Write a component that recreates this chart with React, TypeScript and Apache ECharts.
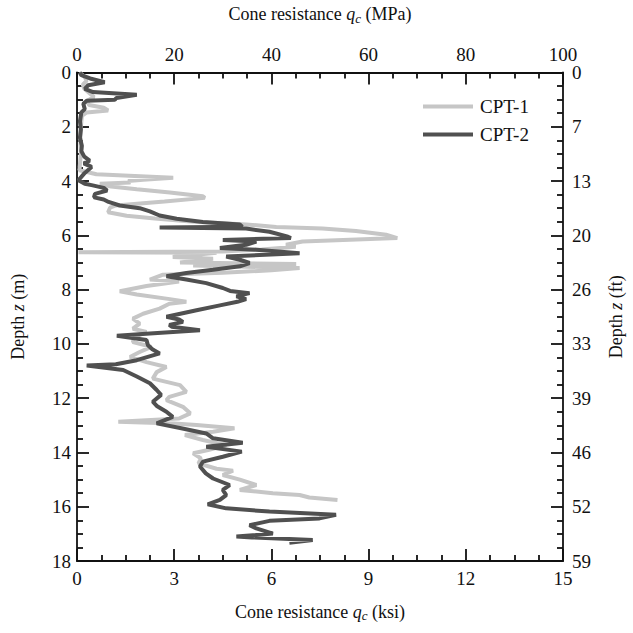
import React, { useEffect, useRef } from "react";
import * as echarts from "echarts";

// CPT-1 (light) : depth (m) and cone resistance (MPa)
const cpt1Depth = [0,0.15,0.3,0.45,0.6,0.75,0.9,1.05,1.2,1.3,1.4,1.47,1.6,2.0,2.5,3.0,3.4,3.6,3.75,3.88,3.95,4.0,4.05,4.1,4.2,4.3,4.42,4.56,4.62,4.75,4.9,4.98,5.15,5.28,5.38,5.5,5.6,5.69,5.75,5.84,5.98,6.1,6.23,6.35,6.42,6.52,6.6,6.62,6.64,6.8,6.86,7.0,7.06,7.11,7.2,7.29,7.38,7.45,7.63,7.7,7.87,8.06,8.18,8.35,8.45,8.52,8.7,8.89,9.07,9.25,9.44,9.56,9.75,9.93,10.11,10.3,10.48,10.67,10.85,11.04,11.28,11.52,11.77,11.95,12.07,12.32,12.56,12.75,12.87,12.93,12.99,13.11,13.24,13.36,13.54,13.73,13.91,14.03,14.22,14.4,14.6,14.67,14.83,15.0,15.2,15.38,15.5,15.57,15.66,15.75];
const cpt1Qc = [0.5,1.5,2.0,1.2,1.5,2.5,3.5,2.0,2.5,5.5,6.4,2.0,1.0,0.8,0.7,0.8,0.6,0.5,4,19.8,13.6,10.5,11,4.7,7,12.3,19.1,25.9,26.3,18,8,6.8,6.4,10.2,16,24,34.8,41,50.5,57.4,63.6,65.9,46.4,43,45,38,30,0.3,28.7,19.7,28,21.2,45.1,23.9,45.8,40,30,17.7,15,21,14.3,8.8,12.3,19.1,22.5,19,17,13.6,11.5,12.9,11.5,14.3,11.8,11.5,15.3,12.9,10.9,14.3,18.4,16.4,15.6,21.2,22.5,19,18.4,21.8,23.3,21,8.5,20,24.6,32.4,28,22.2,25.9,30.7,27,23.9,25.5,25,28.7,32.1,30,33.5,36.9,33.5,40.3,45.8,47.8,53.6];

// CPT-2 (dark)
const cpt2Depth = [0,0.1,0.22,0.36,0.47,0.6,0.72,0.82,0.94,1.0,1.04,1.15,1.35,1.47,1.8,2.1,2.4,2.7,2.9,3.1,3.25,3.35,3.48,3.7,3.97,4.1,4.15,4.25,4.35,4.47,4.6,4.68,4.77,4.9,5.0,5.12,5.27,5.39,5.51,5.6,5.68,5.71,5.75,5.87,6.05,6.1,6.17,6.23,6.35,6.47,6.53,6.66,6.78,6.9,7.02,7.14,7.27,7.39,7.51,7.63,7.76,7.94,8.05,8.13,8.25,8.35,8.45,8.58,8.76,9.0,9.1,9.19,9.3,9.37,9.5,9.62,9.7,9.86,10.05,10.2,10.35,10.6,10.75,10.8,10.96,11.2,11.45,11.7,11.88,12.13,12.3,12.5,12.69,12.93,13.1,13.3,13.48,13.64,13.79,13.97,14.16,14.34,14.52,14.77,14.96,15.2,15.38,15.57,15.75,15.91,16.06,16.18,16.3,16.43,16.52,16.68,16.8,16.99,17.1,17.13,17.23,17.33];
const cpt2Qc = [0.6,0.9,2.7,5.7,2.3,1.6,3.3,12.3,8.1,7.8,2.0,1.3,1.6,0.9,0.6,0.8,0.6,1.0,0.9,1.5,2.6,1.4,3.0,1.6,0.3,1.6,3.0,5.5,6.2,3.7,3.5,5.5,6.5,8.8,12.9,15,17,20.5,25.9,33.5,34,17,34.8,39.6,43.4,44,30,36.9,34.8,29.4,36.9,45.8,30.7,33.5,35.5,33.5,28,22.5,18.4,22.5,26.6,30,31.5,35.5,32.8,34.8,33,29.4,24.6,18.4,21,21.8,19,19.5,25.3,15,8.2,14.3,14.6,15.5,17,12.3,8,2.0,9.5,12.3,15,16.4,17.3,15.6,16.5,18.4,19.7,16.4,21.2,26.6,28,34.1,26.6,33.9,30,25.9,25.3,26.5,28,31.4,30,30.7,29.4,26.9,30.7,39.6,53.3,49.9,39.6,35.5,36.9,40.3,32.8,36,48.5,43.7];

const seriesNames = ["CPT-1", "CPT-2"];
const mpaTicks = [0, 20, 40, 60, 80, 100];
const ksiTicks = [0, 3, 6, 9, 12, 15];
const depthTicksM = [0, 2, 4, 6, 8, 10, 12, 14, 16, 18];
const depthTicksFt = [0, 7, 13, 20, 26, 33, 39, 46, 52, 59];

const FONT = "Liberation Serif";

export default function App() {
  const ref = useRef<HTMLDivElement>(null);
  useEffect(() => {
    if (!ref.current) return;
    const chart = echarts.init(ref.current, undefined, { renderer: "svg" });
    const pairs = (d: number[], q: number[]) => d.map((z, i) => [q[i], z]);
    const rich = {
      n: { fontFamily: FONT, fontSize: 18, color: "#111" },
      i: { fontFamily: FONT, fontSize: 18, fontStyle: "italic", color: "#111" },
      s: { fontFamily: FONT, fontSize: 13, fontStyle: "italic", color: "#111", padding: [8, 0, 0, 0] },
    };
    const axisCommon = {
      axisLine: { show: true, onZero: false, lineStyle: { color: "#111", width: 1.8 } },
      axisTick: { show: true, inside: true, length: 12, lineStyle: { color: "#111", width: 1.8 } },
      minorTick: { show: true, splitNumber: 4, length: 6, lineStyle: { color: "#111", width: 1.8 } },
      splitLine: { show: false },
      axisLabel: { fontFamily: FONT, fontSize: 19, color: "#111" },
      nameTextStyle: { fontFamily: FONT, fontSize: 18, color: "#111", rich },
    };
    chart.setOption({
      animation: false,
      backgroundColor: "#fff",
      grid: { left: 77, right: 69, top: 72, bottom: 72 },
      legend: {
        data: seriesNames,
        orient: "vertical",
        left: 423,
        top: 97,
        padding: 0,
        icon: "rect",
        itemWidth: 50,
        itemHeight: 4,
        itemGap: 9,
        textStyle: { fontFamily: FONT, fontSize: 19, color: "#111", padding: [0, 0, 0, 2] },
      },
      xAxis: [
        {
          ...axisCommon,
          type: "value",
          position: "top",
          min: 0,
          max: 100,
          interval: 20,
          axisLabel: { ...axisCommon.axisLabel, margin: 9, formatter: (v: number) => (mpaTicks.includes(v) ? String(v) : "") },
          name: "{n|Cone resistance }{i|q}{s|c}{n| (MPa)}",
          nameLocation: "middle",
          nameGap: 48,
        },
        {
          ...axisCommon,
          type: "value",
          position: "bottom",
          min: 0,
          max: 15,
          interval: 3,
          axisLabel: { ...axisCommon.axisLabel, margin: 8, formatter: (v: number) => (ksiTicks.includes(v) ? String(v) : "") },
          name: "{n|Cone resistance }{i|q}{s|c}{n| (ksi)}",
          nameLocation: "middle",
          nameGap: 40,
        },
      ],
      yAxis: [
        {
          ...axisCommon,
          type: "value",
          position: "left",
          inverse: true,
          min: 0,
          max: 18,
          interval: 2,
          axisLabel: { ...axisCommon.axisLabel, margin: 6 },
          name: "{n|Depth }{i|z}{n| (m)}",
          nameLocation: "middle",
          nameRotate: 90,
          nameGap: 50,
        },
        {
          ...axisCommon,
          type: "value",
          position: "right",
          inverse: true,
          min: 0,
          max: 18,
          interval: 2,
          axisLabel: {
            ...axisCommon.axisLabel,
            margin: 9,
            formatter: (v: number) => {
              const idx = depthTicksM.indexOf(v);
              return idx >= 0 ? String(depthTicksFt[idx]) : "";
            },
          },
          name: "{n|Depth }{i|z}{n| (ft)}",
          nameLocation: "middle",
          nameRotate: 90,
          nameGap: 44,
        },
      ],
      series: [
        {
          name: seriesNames[0],
          type: "line",
          xAxisIndex: 0,
          yAxisIndex: 0,
          data: pairs(cpt1Depth, cpt1Qc),
          showSymbol: false,
          symbol: "none",
          lineStyle: { color: "#c6c6c6", width: 4 },
          itemStyle: { color: "#c6c6c6" },
          z: 2,
        },
        {
          name: seriesNames[1],
          type: "line",
          xAxisIndex: 0,
          yAxisIndex: 0,
          data: pairs(cpt2Depth, cpt2Qc),
          showSymbol: false,
          symbol: "none",
          lineStyle: { color: "#505050", width: 4 },
          itemStyle: { color: "#505050" },
          z: 3,
        },
      ],
    });
    return () => chart.dispose();
  }, []);
  return <div ref={ref} style={{ width: 633, height: 633, position: "absolute", left: 0, top: 0 }} />;
}
